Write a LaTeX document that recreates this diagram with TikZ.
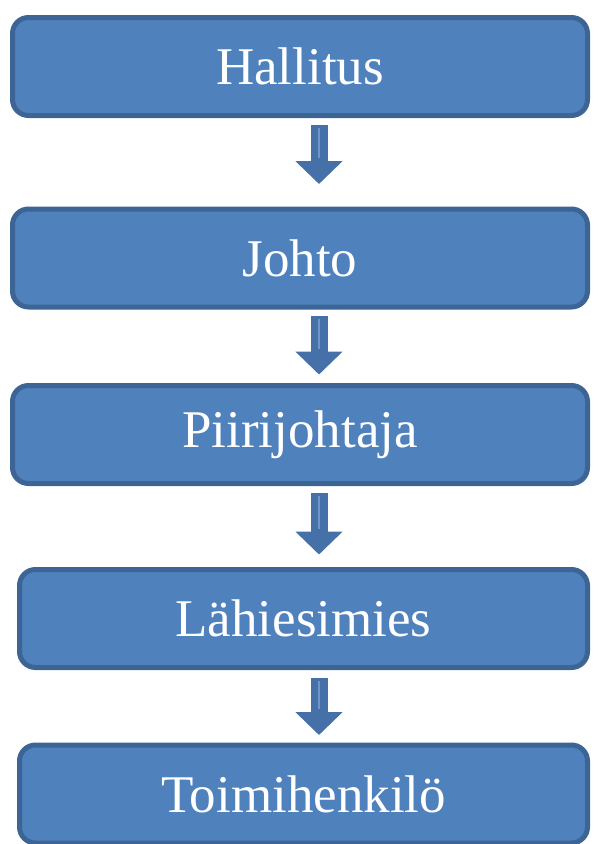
\documentclass[tikz,border=0pt]{standalone}
\usepackage{fontspec}
\setmainfont{Liberation Serif}
\usetikzlibrary{arrows.meta,calc}
\definecolor{boxfill}{HTML}{4F81BD}
\definecolor{boxline}{HTML}{3C6596}
\definecolor{arrowblue}{HTML}{4570A8}
\definecolor{arrowlight}{HTML}{6E96C8}
\tikzset{
  orgbox/.style={draw=boxline, fill=boxfill, line width=5pt, rounded corners=16pt,
    minimum height=98pt, inner sep=0pt, outer sep=0pt, text=white,
    font=\fontsize{53}{60}\selectfont},
  blockarr/.style={draw=arrowblue, line width=17pt,
    -{Triangle[width=46pt,length=23pt]},
    postaction={draw=arrowlight, line width=2.5pt, -, shorten >=26pt, shorten <=3pt}}
}
\begin{document}
\begin{tikzpicture}[x=1pt,y=-1pt]
\useasboundingbox (0,0) rectangle (599,844);
\node[orgbox, minimum width=575pt] (h) at (300,66.5) {Hallitus};
\node[orgbox, minimum width=575pt] (j) at (300,258) {Johto};
\node[orgbox, minimum width=575pt] (p) at (300,434.5) {Piirijohtaja};
\node[orgbox, minimum width=568pt] (l) at (303.5,618.5) {Lähiesimies};
\node[orgbox, minimum width=568pt] (t) at (303.5,794) {Toimihenkilö};
\coordinate (ax) at (319,0);
\draw[blockarr] ($(h.south -| ax)+(0,9)$) -- ($(j.north -| ax)+(0,-25)$);
\draw[blockarr] ($(j.south -| ax)+(0,9)$) -- ($(p.north -| ax)+(0,-11)$);
\draw[blockarr] ($(p.south -| ax)+(0,9)$) -- ($(l.north -| ax)+(0,-15)$);
\draw[blockarr] ($(l.south -| ax)+(0,10)$) -- ($(t.north -| ax)+(0,-10)$);
\end{tikzpicture}
\end{document}
